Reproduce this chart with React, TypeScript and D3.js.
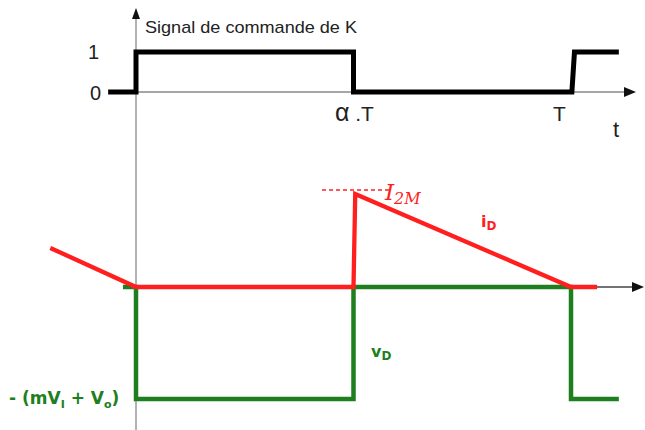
import React from "react";
import * as d3 from "d3";

// Time in units of T, alpha = 0.5
const commandT = [-0.064, 0, 0, 0.5, 0.5, 1.002, 1.008, 1.11];
const commandV = [0, 0, 1, 1, 0, 0, 1, 1];

const currentT = [-0.197, 0, 0.5, 0.504, 1, 1.06];
const currentV = [0.42, 0, 0, 1, 0, 0];

const voltageT = [-0.03, 0, 0, 0.5, 0.5, 1, 1, 1.11];
const voltageV = [0, 0, -1, -1, 0, 0, -1, -1];

const tickLabelsCmd = ["0", "1"];

const W = 645;
const H = 430;

export default function App() {
  const x = d3.scaleLinear().domain([0, 1]).range([136, 571]);
  const yCmd = d3.scaleLinear().domain([0, 1]).range([92, 52]);
  const yI = d3.scaleLinear().domain([0, 1]).range([287, 194]);
  const yV = d3.scaleLinear().domain([-1, 0]).range([399, 287]);

  const cmdLine = d3
    .line<number>()
    .x((_, i) => x(commandT[i]))
    .y((d) => yCmd(d));
  const iLine = d3
    .line<number>()
    .x((_, i) => x(currentT[i]))
    .y((d) => yI(d));
  const vLine = d3
    .line<number>()
    .x((_, i) => x(voltageT[i]))
    .y((d) => yV(d));

  const red = "#ff1f1f";
  const green = "#1e7f1e";
  const sans = "'Liberation Sans', Arial, sans-serif";
  const bold = "'DejaVu Sans', Verdana, sans-serif";
  const x0 = x(0);

  return (
    <svg
      width={W}
      height={H}
      style={{ position: "absolute", left: 0, top: 0, display: "block", background: "#fff" }}
    >
      {/* vertical axis */}
      <line x1={x0} y1={16} x2={x0} y2={H} stroke="#999" strokeWidth={1.5} />
      <path d={`M${x0},8 L${x0 - 4},19 L${x0 + 4},19 Z`} fill="#111" />
      {/* top time axis */}
      <line x1={x0} y1={yCmd(0)} x2={626} y2={yCmd(0)} stroke="#888" strokeWidth={1.5} />
      <path d={`M636,${yCmd(0)} L624,${yCmd(0) - 5} L624,${yCmd(0) + 5} Z`} fill="#111" />
      {/* bottom axis */}
      <line x1={x0} y1={yI(0)} x2={634} y2={yI(0)} stroke="#444" strokeWidth={1.3} />
      <path d={`M644,${yI(0)} L632,${yI(0) - 5} L632,${yI(0) + 5} Z`} fill="#111" />

      {/* command signal */}
      <path d={cmdLine(commandV) || ""} fill="none" stroke="#000" strokeWidth={5} strokeLinejoin="miter" />

      {/* diode voltage */}
      <path d={vLine(voltageV) || ""} fill="none" stroke={green} strokeWidth={4.5} strokeLinejoin="miter" />
      {/* diode current */}
      <path d={iLine(currentV) || ""} fill="none" stroke={red} strokeWidth={4.3} strokeLinejoin="miter" />
      {/* I2M dashed marker */}
      <line
        x1={322}
        y1={yI(1) - 4}
        x2={392}
        y2={yI(1) - 4}
        stroke={red}
        strokeWidth={1.3}
        strokeDasharray="4,3"
      />

      {/* texts */}
      <text x={145} y={33} fontFamily={sans} fontSize={17} fill="#222" textLength={212} lengthAdjust="spacingAndGlyphs">
        Signal de commande de K
      </text>
      <text x={99} y={yCmd(1) + 7} fontFamily={sans} fontSize={20} fill="#222" textAnchor="end">
        {tickLabelsCmd[1]}
      </text>
      <text x={101} y={yCmd(0) + 8} fontFamily={sans} fontSize={20} fill="#222" textAnchor="end">
        {tickLabelsCmd[0]}
      </text>
      <text x={335} y={121} fontFamily={sans} fontSize={21} fill="#222">
        <tspan fontSize={25}>α</tspan> .T
      </text>
      <text x={553} y={121} fontFamily={sans} fontSize={21} fill="#222">
        T
      </text>
      <text x={613} y={137} fontFamily={sans} fontSize={22} fill="#222">
        t
      </text>

      <text x={385} y={200} fontFamily="'DejaVu Serif', serif" fontStyle="italic" fontSize={23} fill={red}>
        I
        <tspan fontSize={16} dy={4}>2M</tspan>
      </text>
      <text x={481} y={227} fontFamily={bold} fontWeight="bold" fontSize={16} fill={red}>
        i
        <tspan fontSize={12} dy={3}>D</tspan>
      </text>
      <text x={371} y={357} fontFamily={bold} fontWeight="bold" fontSize={16} fill={green}>
        v
        <tspan fontSize={12} dy={3}>D</tspan>
      </text>
      <text x={9} y={404} fontFamily={bold} fontWeight="bold" fontSize={17} fill={green}>
        - (mV
        <tspan fontSize={11} dy={4}>I</tspan>
        <tspan dy={-4}> + V</tspan>
        <tspan fontSize={11} dy={4}>o</tspan>
        <tspan dy={-4}>)</tspan>
      </text>
    </svg>
  );
}
